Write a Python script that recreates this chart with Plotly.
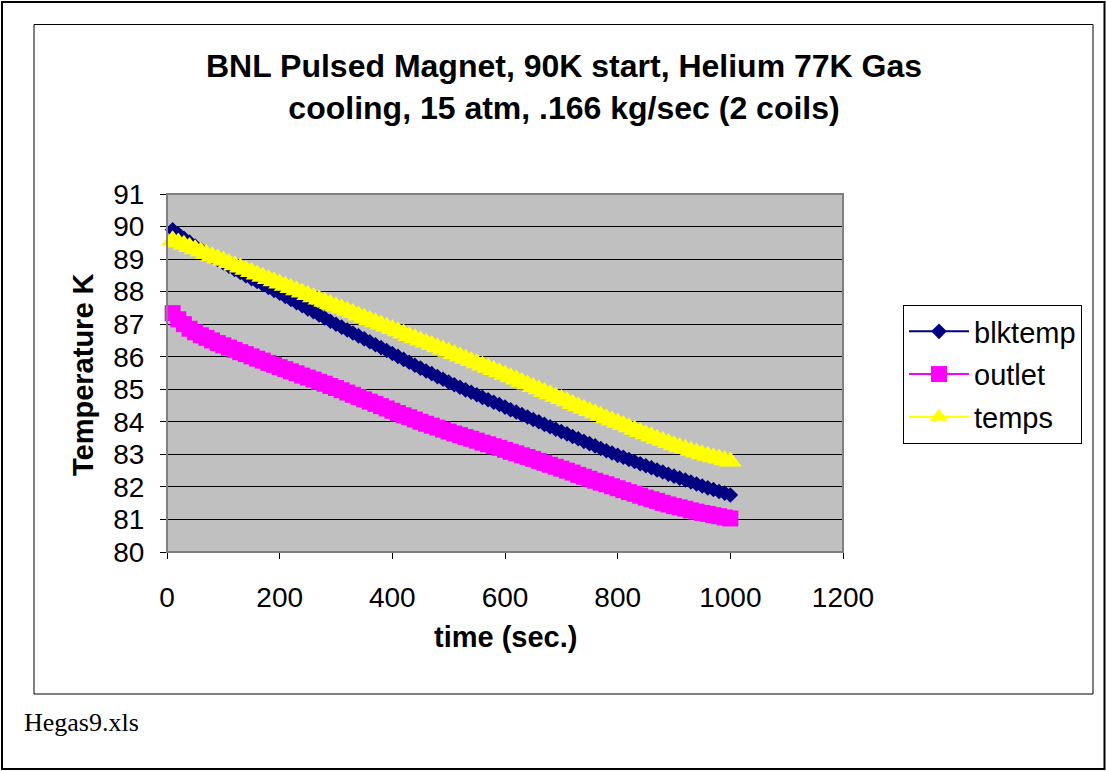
import plotly.graph_objects as go

# ---- data ----
time_s = [10, 20, 30, 40, 50, 60, 70, 80, 90, 100,
          110, 120, 130, 140, 150, 160, 170, 180, 190, 200,
          210, 220, 230, 240, 250, 260, 270, 280, 290, 300,
          310, 320, 330, 340, 350, 360, 370, 380, 390, 400,
          410, 420, 430, 440, 450, 460, 470, 480, 490, 500,
          510, 520, 530, 540, 550, 560, 570, 580, 590, 600,
          610, 620, 630, 640, 650, 660, 670, 680, 690, 700,
          710, 720, 730, 740, 750, 760, 770, 780, 790, 800,
          810, 820, 830, 840, 850, 860, 870, 880, 890, 900,
          910, 920, 930, 940, 950, 960, 970, 980, 990, 1000]

blktemp = [89.90, 89.77, 89.64, 89.52, 89.40, 89.29, 89.19, 89.08, 88.98, 88.88,
           88.78, 88.68, 88.59, 88.49, 88.40, 88.31, 88.22, 88.13, 88.04, 87.95,
           87.85, 87.76, 87.66, 87.57, 87.47, 87.38, 87.28, 87.19, 87.09, 87.00,
           86.91, 86.82, 86.73, 86.64, 86.55, 86.46, 86.37, 86.28, 86.19, 86.10,
           86.01, 85.92, 85.83, 85.74, 85.65, 85.56, 85.48, 85.39, 85.31, 85.22,
           85.14, 85.06, 84.98, 84.91, 84.83, 84.75, 84.68, 84.60, 84.53, 84.45,
           84.37, 84.30, 84.22, 84.15, 84.07, 84.00, 83.92, 83.85, 83.77, 83.70,
           83.63, 83.55, 83.48, 83.40, 83.33, 83.26, 83.18, 83.11, 83.04, 82.97,
           82.91, 82.84, 82.78, 82.71, 82.65, 82.59, 82.52, 82.46, 82.39, 82.33,
           82.27, 82.21, 82.15, 82.09, 82.03, 81.97, 81.92, 81.86, 81.81, 81.75]

outlet = [87.34, 87.15, 87.00, 86.86, 86.75, 86.66, 86.58, 86.50, 86.42, 86.35,
          86.28, 86.21, 86.14, 86.08, 86.01, 85.94, 85.88, 85.81, 85.75, 85.68,
          85.62, 85.55, 85.49, 85.42, 85.36, 85.30, 85.23, 85.17, 85.10, 85.04,
          84.97, 84.90, 84.83, 84.76, 84.69, 84.62, 84.55, 84.48, 84.41, 84.34,
          84.27, 84.20, 84.14, 84.07, 84.00, 83.94, 83.88, 83.82, 83.76, 83.70,
          83.64, 83.59, 83.53, 83.48, 83.42, 83.36, 83.31, 83.25, 83.20, 83.14,
          83.08, 83.03, 82.97, 82.92, 82.86, 82.80, 82.74, 82.68, 82.62, 82.56,
          82.50, 82.44, 82.37, 82.31, 82.25, 82.19, 82.13, 82.08, 82.02, 81.96,
          81.90, 81.84, 81.79, 81.73, 81.67, 81.62, 81.57, 81.51, 81.46, 81.41,
          81.37, 81.33, 81.28, 81.24, 81.20, 81.17, 81.13, 81.10, 81.06, 81.03]

temps = [89.58, 89.51, 89.44, 89.37, 89.30, 89.23, 89.16, 89.09, 89.02, 88.95,
         88.88, 88.81, 88.74, 88.67, 88.60, 88.53, 88.46, 88.39, 88.32, 88.25,
         88.18, 88.11, 88.04, 87.97, 87.90, 87.83, 87.76, 87.69, 87.62, 87.55,
         87.48, 87.41, 87.34, 87.27, 87.20, 87.13, 87.06, 86.99, 86.92, 86.85,
         86.78, 86.71, 86.64, 86.57, 86.50, 86.43, 86.36, 86.29, 86.22, 86.15,
         86.08, 86.01, 85.94, 85.87, 85.80, 85.73, 85.66, 85.59, 85.52, 85.45,
         85.37, 85.30, 85.22, 85.15, 85.07, 85.00, 84.92, 84.85, 84.77, 84.70,
         84.63, 84.55, 84.48, 84.40, 84.33, 84.26, 84.19, 84.11, 84.04, 83.97,
         83.90, 83.83, 83.76, 83.69, 83.62, 83.55, 83.48, 83.42, 83.35, 83.28,
         83.22, 83.17, 83.11, 83.06, 83.00, 82.96, 82.91, 82.87, 82.82, 82.78]

x_ticks = [0, 200, 400, 600, 800, 1000, 1200]
y_ticks = [80, 81, 82, 83, 84, 85, 86, 87, 88, 89, 90, 91]

series_names = ["blktemp", "outlet", "temps"]

# ---- layout geometry (pixels) ----
W, H = 1106, 771
L, R, T, B = 167, 263, 194, 219
PW, PH = W - L - R, H - T - B


def px_x(px):
    return (px - L) / PW


def px_y(py):
    return (H - B - py) / PH


SANS = "Arial, Liberation Sans, sans-serif"
SERIF = "Times New Roman, Liberation Serif, serif"

fig = go.Figure()

styles = [
    dict(color="#000080", symbol="diamond", size=12),
    dict(color="#FF00FF", symbol="square", size=16),
    dict(color="#FFFF00", symbol="triangle-up", size=20),
]
for name, vals, st in zip(series_names, [blktemp, outlet, temps], styles):
    fig.add_trace(go.Scatter(
        x=time_s, y=vals, name=name, mode="lines+markers",
        legendgroup=name,
        line=dict(color=st["color"], width=2),
        marker=dict(color=st["color"], symbol=st["symbol"], size=st["size"],
                    line=dict(width=0)),
        cliponaxis=False,
    ))

shapes = [
    # outer page frame
    dict(type="rect", xref="paper", yref="paper",
         x0=px_x(2), x1=px_x(1104.5), y0=px_y(769), y1=px_y(2),
         line=dict(color="black", width=2), fillcolor="rgba(0,0,0,0)", layer="below"),
    # chart frame
    dict(type="rect", xref="paper", yref="paper",
         x0=px_x(34), x1=px_x(1093), y0=px_y(694), y1=px_y(24.5),
         line=dict(color="black", width=1), fillcolor="rgba(0,0,0,0)", layer="below"),
    # plot area border (gray)
    dict(type="rect", xref="paper", yref="paper",
         x0=0, x1=1, y0=0, y1=1,
         line=dict(color="#808080", width=2), fillcolor="rgba(0,0,0,0)", layer="above"),
]

annotations = [
    dict(text="<b>BNL Pulsed Magnet, 90K start, Helium 77K Gas<br>cooling, 15 atm, .166 kg/sec (2 coils)</b>",
         xref="paper", yref="paper", x=px_x(564), y=px_y(87), xanchor="center", yanchor="middle",
         showarrow=False, font=dict(family=SANS, size=32, color="black")),
    dict(text="<b>time (sec.)</b>", xref="paper", yref="paper",
         x=px_x(505), y=px_y(637), xanchor="center", yanchor="middle",
         showarrow=False, font=dict(family=SANS, size=29, color="black")),
    dict(text="<b>Temperature K</b>", xref="paper", yref="paper",
         x=px_x(83), y=px_y(375), xanchor="center", yanchor="middle", textangle=-90,
         showarrow=False, font=dict(family=SANS, size=29, color="black")),
    dict(text="Hegas9.xls", xref="paper", yref="paper",
         x=px_x(22), y=px_y(722), xanchor="left", yanchor="middle",
         showarrow=False, font=dict(family=SERIF, size=26, color="black")),
]

fig.update_layout(
    width=W, height=H,
    margin=dict(l=L, r=R, t=T, b=B, pad=0),
    paper_bgcolor="white",
    plot_bgcolor="#C0C0C0",
    showlegend=True,
    legend=dict(
        x=px_x(903), y=px_y(305), xanchor="left", yanchor="top",
        bgcolor="white", bordercolor="black", borderwidth=1,
        font=dict(family=SANS, size=29, color="black"),
        tracegroupgap=2, itemwidth=60,
    ),
    shapes=shapes,
    annotations=annotations,
    xaxis=dict(
        range=[0, 1200], tickvals=x_ticks, ticktext=[str(v) for v in x_ticks],
        showgrid=False, zeroline=False,
        showline=True, linecolor="black", linewidth=1,
        ticks="outside", ticklen=6, tickcolor="black", tickwidth=1,
        ticklabelstandoff=14,
        tickfont=dict(family=SANS, size=28, color="black"),
    ),
    yaxis=dict(
        range=[80, 91], tickvals=y_ticks, ticktext=[str(v) for v in y_ticks],
        showgrid=True, gridcolor="black", gridwidth=1, zeroline=False,
        showline=True, linecolor="black", linewidth=1,
        ticks="outside", ticklen=6, tickcolor="black", tickwidth=1,
        ticklabelstandoff=10,
        tickfont=dict(family=SANS, size=28, color="black"),
    ),
)

fig.write_html(
    "out.html",
    config={"displayModeBar": False},
    post_script="document.body.style.margin='0';document.body.style.overflow='hidden';",
)
